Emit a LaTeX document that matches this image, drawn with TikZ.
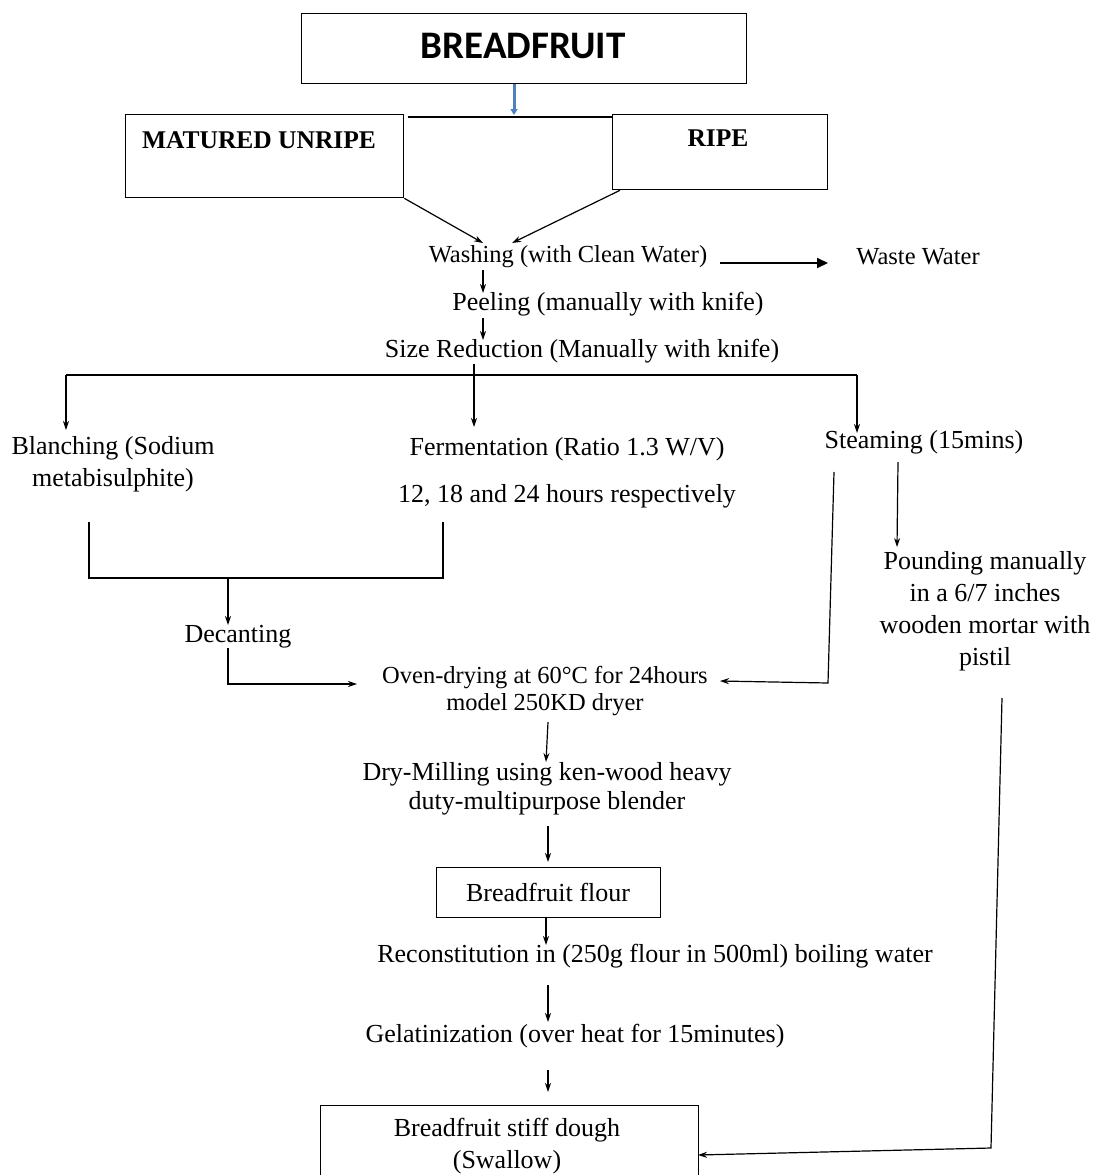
\documentclass[tikz,border=0pt]{standalone}
\usepackage{fontspec}
\setmainfont{Liberation Serif}
\newfontfamily\calib{Carlito}
\usetikzlibrary{arrows.meta}
\begin{document}
\begin{tikzpicture}[x=1pt,y=-1pt,
  txt/.style={inner sep=0pt, align=center, font=\fontsize{26}{32}\selectfont},
  txts/.style={inner sep=0pt, align=center, font=\fontsize{24.5}{27}\selectfont},
  boxd/.style={draw, line width=1.3pt, inner sep=0pt},
  ln/.style={line width=1.2pt},
  arr/.style={line width=1.2pt, -{Stealth[length=9pt,width=6pt]}},
  bigarr/.style={line width=2pt, -{Triangle[length=11pt,width=10pt]}},
  bluearr/.style={line width=3pt, draw={rgb,255:red,79;green,129;blue,189}, -{Triangle[length=6pt,width=7pt]}}]
\useasboundingbox (0,0) rectangle (1094,1175);

% boxes
\node[boxd, minimum width=445pt, minimum height=70pt, anchor=north west] (bf) at (301,13) {};
\node[font=\calib\bfseries\fontsize{39}{40}\selectfont, inner sep=0pt] (bft) at (523,46) {BREADFRUIT};
\node[boxd, minimum width=278pt, minimum height=83pt, anchor=north west] (mu) at (125,114) {};
\node[font=\bfseries\fontsize{25.5}{28}\selectfont, inner sep=0pt] (mut) at (259,140) {MATURED UNRIPE};
\node[boxd, minimum width=215pt, minimum height=75pt, anchor=north west] (ripe) at (612,114) {};
\node[font=\bfseries\fontsize{25.5}{28}\selectfont, inner sep=0pt] (ripet) at (718,138) {RIPE};

% process texts
\node[txts] (wash) at (568,257) {Washing (with Clean Water)};
\node[txts] (waste) at (918,257) {Waste Water};
\node[txt] (peel) at (608,304) {Peeling (manually with knife)};
\node[txt] (size) at (582,351) {Size Reduction (Manually with knife)};
\node[txt] (blanch) at (113,464) {Blanching (Sodium\\metabisulphite)};
\node[txt] (ferm) at (567,449) {Fermentation (Ratio 1.3 W/V)};
\node[txt] (hours) at (567,496) {12, 18 and 24 hours respectively};
\node[txt] (steam) at (924,442) {Steaming (15mins)};
\node[txt] (pound) at (985,611) {Pounding manually\\in a 6/7 inches\\wooden mortar with\\pistil};
\node[txt] (decant) at (238,637) {Decanting};
\node[txts] (oven) at (545,691) {Oven-drying at 60°C for 24hours\\model 250KD dryer};
\node[txt, font=\fontsize{26}{29}\selectfont] (mill) at (547,789) {Dry-Milling using ken-wood heavy\\duty-multipurpose blender};
\node[boxd, minimum width=224pt, minimum height=50pt, anchor=north west] (flour) at (436,867) {};
\node[txt] (flourt) at (548,892) {Breadfruit flour};
\node[txt] (recon) at (655,956) {Reconstitution in (250g flour in 500ml) boiling water};
\node[txt] (gel) at (575,1036) {Gelatinization (over heat for 15minutes)};
\node[boxd, minimum width=378pt, minimum height=75pt, anchor=north west] (dough) at (320,1105) {};
\node[txt] (dought) at (507,1146) {Breadfruit stiff dough\\(Swallow)};

% coordinates for connector ends
\coordinate (j0) at (514,115);
\coordinate (t0) at (408,117);
\coordinate (t1) at (612,117);
\coordinate (w1) at (483,243);
\coordinate (w2) at (512,243);
\coordinate (wa1) at (720,263);
\coordinate (wa2) at (828,263);
\coordinate (p0) at (483,270);
\coordinate (p1) at (483,293);
\coordinate (s0) at (483,318);
\coordinate (s1) at (483,340);
\coordinate (hL) at (66,375);
\coordinate (hM) at (474,375);
\coordinate (hR) at (857,375);
\coordinate (hM0) at (474,364);
\coordinate (bL) at (66,430);
\coordinate (bM) at (474,427);
\coordinate (bR) at (857,433);
\coordinate (k1) at (89,522);
\coordinate (k2) at (89,578);
\coordinate (k3) at (443,578);
\coordinate (k4) at (443,522);
\coordinate (kd) at (228,578);
\coordinate (kd1) at (228,625);
\coordinate (d0) at (228,648);
\coordinate (d1) at (228,684);
\coordinate (d2) at (357,684);
\coordinate (st0) at (834,472);
\coordinate (st1) at (828,683);
\coordinate (st2) at (720,681);
\coordinate (sp0) at (898,462);
\coordinate (sp1) at (897,547);
\coordinate (po0) at (1002,698);
\coordinate (po1) at (991,1148);
\coordinate (po2) at (698,1155);
\coordinate (o0) at (548,722);
\coordinate (o1) at (546,762);
\coordinate (m0) at (548,826);
\coordinate (m1) at (548,862);
\coordinate (f1) at (546,945);
\coordinate (r0) at (548,985);
\coordinate (r1) at (548,1022);
\coordinate (g0) at (548,1070);
\coordinate (g1) at (548,1092);

% connectors
\draw[bluearr] (bf.south -| j0) -- (j0);
\draw[ln] (t0) -- (t1);
\draw[arr] (mu.south east) -- (w1);
\draw[arr] ([xshift=8pt]ripe.south west) -- (w2);
\draw[bigarr] (wa1) -- (wa2);
\draw[arr] (p0) -- (p1);
\draw[arr] (s0) -- (s1);
\draw[ln] (bL |- hL) -- (hR);
\draw[arr] (hL) -- (bL);
\draw[arr] (hM0) -- (bM);
\draw[arr] (hR) -- (bR);
\draw[ln] (k1) -- (k2) -- (k3) -- (k4);
\draw[arr] (kd) -- (kd1);
\draw[arr] (d0) -- (d1) -- (d2);
\draw[arr] (st0) -- (st1) -- (st2);
\draw[arr] (sp0) -- (sp1);
\draw[arr] (po0) -- (po1) -- (po2);
\draw[arr] (o0) -- (o1);
\draw[arr] (m0) -- (m1);
\draw[arr] (flour.south -| f1) -- (f1);
\draw[arr] (r0) -- (r1);
\draw[arr] (g0) -- (g1);
\end{tikzpicture}
\end{document}
